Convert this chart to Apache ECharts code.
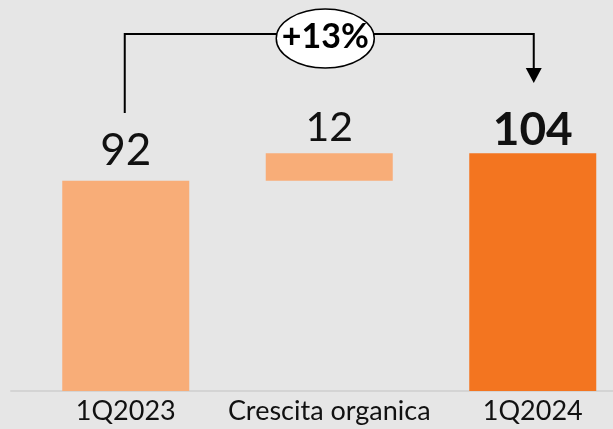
<!DOCTYPE html>
<html>
<head>
<meta charset="utf-8">
<script src="https://cdn.jsdelivr.net/npm/echarts@6/dist/echarts.min.js"></script>
<style>
  html, body { margin: 0; padding: 0; background: #e6e6e6; }
  #main { width: 613px; height: 429px; }
</style>
</head>
<body>
<div id="main"></div>
<script>
// ponte 1Q2023 -> 1Q2024
const categories = ['1Q2023', 'Crescita organica', '1Q2024'];
const values = [92, 12, 104];
const growthLabel = '+13%';

const FONT = 'Lato, "Open Sans", sans-serif';
const LIGHT = '#f8ad78', DARK = '#f37520', INK = '#111', LINE = '#d4d4d4';

// base invisibile per la barra fluttuante
const base = [0, values[0], 0];
const labelStyles = [
  { fontSize: 44, fontWeight: 'normal', distance: 8 },
  { fontSize: 41, fontWeight: 'normal', distance: 5 },
  { fontSize: 46, fontWeight: 'bold', distance: 0 },
];

const chart = echarts.init(document.getElementById('main'));
chart.setOption({
  backgroundColor: '#e6e6e6',
  animation: false,
  grid: [
    { left: 24, top: 48, bottom: 38, width: 610.5, outerBoundsMode: 'none' },
    { left: 11, top: 48, bottom: 38, width: 610.5, outerBoundsMode: 'none' },
  ],
  xAxis: [
    { type: 'category', gridIndex: 0, data: categories,
      axisLine: { show: false }, axisTick: { show: false },
      axisLabel: { color: INK, fontFamily: FONT, fontSize: 27, margin: 7, interval: 0 } },
    { type: 'category', gridIndex: 1, data: categories,
      axisLine: { lineStyle: { color: LINE, width: 2 } },
      axisTick: { length: 9, interval: 0, lineStyle: { color: LINE, width: 2 } },
      axisLabel: { show: false } },
  ],
  yAxis: [
    { type: 'value', gridIndex: 0, min: 0, max: 150, show: false },
    { type: 'value', gridIndex: 1, min: 0, max: 150, show: false },
  ],
  series: [
    { type: 'bar', stack: 'w', barWidth: 127, data: base,
      itemStyle: { color: 'transparent' }, silent: true },
    { type: 'bar', stack: 'w', barWidth: 127,
      data: values.map((v, i) => ({
        value: v,
        itemStyle: { color: i === values.length - 1 ? DARK : LIGHT },
        label: {
          show: true, position: 'top', color: INK, fontFamily: FONT,
          fontSize: labelStyles[i].fontSize, fontWeight: labelStyles[i].fontWeight,
          distance: labelStyles[i].distance,
        },
      })) },
  ],
});

// freccia +13%
const x1 = chart.convertToPixel({ xAxisIndex: 0 }, categories[0]);
const x2 = chart.convertToPixel({ xAxisIndex: 0 }, categories[1]);
const x3 = chart.convertToPixel({ xAxisIndex: 0 }, categories[2]);
const yTop = 34;
chart.setOption({
  graphic: [
    { type: 'polyline', shape: { points: [[x1 - 1, 113], [x1 - 1, yTop], [x3 + 1, yTop], [x3 + 1, 70]] },
      style: { stroke: '#000', lineWidth: 2, fill: null } },
    { type: 'polygon', shape: { points: [[x3 - 7, 68], [x3 + 9, 68], [x3 + 1, 83]] },
      style: { fill: '#000' } },
    { type: 'ellipse', shape: { cx: x2 - 4, cy: 38.5, rx: 49, ry: 29.5 },
      style: { fill: '#fff', stroke: '#000', lineWidth: 1.5 } },
    { type: 'text', x: x2 - 4, y: 37,
      style: { text: growthLabel, align: 'center', verticalAlign: 'middle',
        font: 'bold 34px ' + FONT, fill: '#000' } },
  ],
});
</script>
</body>
</html>
